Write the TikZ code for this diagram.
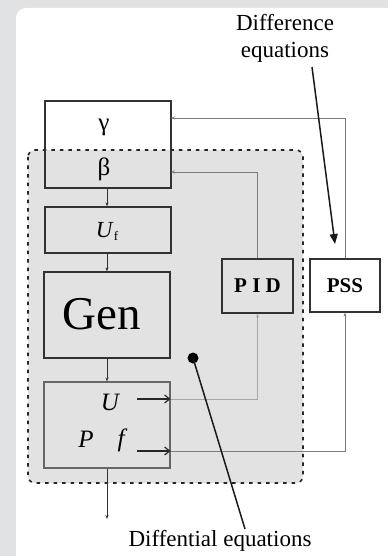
\documentclass[tikz,border=0pt]{standalone}
\usepackage{fontspec}
\setmainfont{Liberation Serif}
\usetikzlibrary{arrows.meta,calc}
\definecolor{outerbg}{RGB}{225,226,228}
\definecolor{regionbg}{RGB}{226,226,226}
\definecolor{boxline}{RGB}{50,50,50}
\definecolor{fbline}{RGB}{125,125,125}
\definecolor{fblight}{RGB}{165,165,165}
\tikzset{
  blk/.style={draw=boxline, line width=1.3pt, minimum width=126pt, inner sep=0pt},
  smallbox/.style={draw=boxline, line width=1.3pt, inner sep=0pt},
  lbl/.style={inner sep=0pt},
  tinyarr/.style={-{Stealth[length=4pt,width=3pt]}, line width=0.7pt, draw=boxline},
  fb/.style={-{Stealth[length=4pt,width=3pt]}, line width=0.9pt, draw=fbline},
  fbl/.style={-{Stealth[length=4pt,width=3pt]}, line width=0.9pt, draw=fblight},
  thickarr/.style={-{Straight Barb[length=5pt,width=8pt,line width=1.2pt]}, line width=1.6pt, draw=black!85},
  callout/.style={line width=1.5pt, draw=black!90},
}
\begin{document}
\begin{tikzpicture}[x=1pt,y=-1pt]
\useasboundingbox (0,0) rectangle (388,556);
\fill[outerbg] (0,0) rectangle (388,556);
\fill[white, rounded corners=10pt] (16,8) rectangle (400,570);
% region of differential equations
\fill[regionbg, rounded corners=7pt] (28,150) rectangle (303,483);
\draw[black!85, line width=1.6pt, dash pattern=on 3.5pt off 5pt, rounded corners=7pt] (28,150) rectangle (303,483);

% blocks
\node[blk, minimum height=87pt] (gb) at (108,144.5) {};
\node[lbl, font=\fontsize{25}{27}\selectfont] (gam) at (104,127) {γ};
\node[lbl, font=\fontsize{25}{27}\selectfont] (bet) at (104,169) {β};
\node[blk, minimum height=46pt] (uf) at (108,230) {};
\node[lbl, font=\fontsize{23}{25}\selectfont] (uft) at (107,231) {\textit{U}\raisebox{-3pt}{\fontsize{13}{14}\selectfont f}};
\node[blk, minimum height=86pt] (gen) at (107,315) {};
\node[lbl, font=\fontsize{47}{49}\selectfont] (gent) at (102,314) {Gen};
\node[blk, draw=black!60, line width=1.1pt, minimum height=86pt] (out) at (107,425) {};
\node[lbl, font=\itshape\fontsize{25}{27}\selectfont] (ut) at (110,402) {U};
\node[lbl, font=\itshape\fontsize{25}{27}\selectfont] (pt) at (86,439) {P};
\node[lbl, font=\itshape\fontsize{25}{27}\selectfont] (ft) at (121,440) {f};
\node[smallbox, minimum width=71pt, minimum height=54pt, font=\bfseries\fontsize{21}{23}\selectfont] (pid) at (257.5,286) {P I D};
\node[smallbox, fill=white, minimum width=70pt, minimum height=53pt, font=\bfseries\fontsize{21}{23}\selectfont] (pss) at (345,285.5) {PSS};

% chain
\draw[tinyarr] (gb.south -| 107,0) -- (uf.north -| 107,0);
\draw[tinyarr] (uf.south -| 107,0) -- (gen.north -| 107,0);
\draw[tinyarr] (gen.south) -- (out.north);
\coordinate (outend) at (107,519);
\draw[tinyarr] (out.south) -- (outend);

% output arrows
\coordinate (ua) at (137,399);
\coordinate (fa) at (137,451);
\draw[thickarr] (ua) -- (ua -| out.east);
\draw[thickarr] (fa) -- (fa -| out.east);

% feedback lines
\draw[fbl] (ua -| out.east) -| (pid.south);
\draw[fb] (fa -| out.east) -| (pss.south);
\coordinate (bin) at (171,172);
\coordinate (gin) at (171,118);
\draw[fb] (pid.north) |- (bin);
\draw[fb] (pss.north) |- (gin);

% labels
\node[lbl, align=center, font=\fontsize{23}{27}\selectfont] (diffeq) at (285,38) {Difference\\equations};
\coordinate (dstart) at (312,67);
\coordinate (dend) at (335,244);
\draw[callout, -{Triangle[length=10pt,width=8pt]}] (dstart) -- (dend);

\node[lbl, font=\fontsize{23}{25}\selectfont] (difl) at (220,541) {Diffential equations};
\coordinate (dot) at (193,358);
\coordinate (lend) at (245,529);
\fill[black] (dot) circle (5.5pt);
\draw[callout] (dot) -- (lend);
\end{tikzpicture}
\end{document}
